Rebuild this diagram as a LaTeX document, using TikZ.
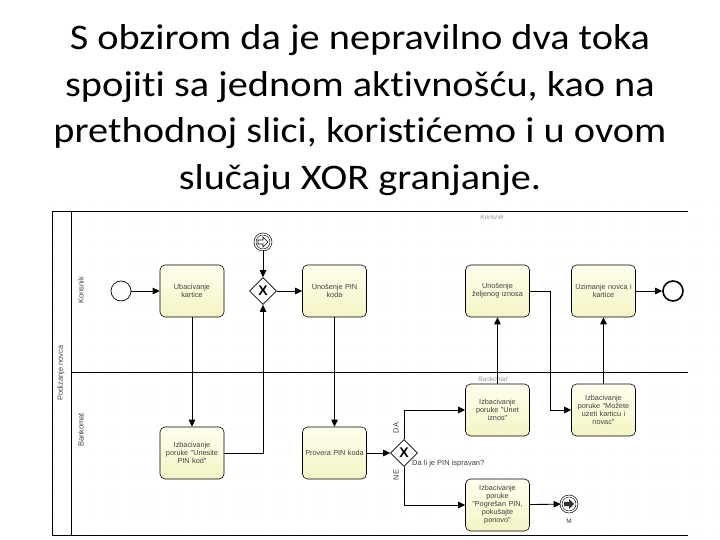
\documentclass[tikz,border=0pt]{standalone}
\usepackage{fontspec}
\setmainfont[Ligatures=NoCommon]{Carlito}
\newfontfamily\diag{Liberation Sans}
\usetikzlibrary{arrows.meta,shapes.geometric,calc}
\definecolor{tasktop}{RGB}{255,255,238}
\definecolor{taskbot}{RGB}{244,244,196}
\newcommand{\wide}[1]{\scalebox{1.12}[1]{#1}}
\begin{document}
\begin{tikzpicture}[x=1pt,y=-1pt,
  task/.style={draw=black, line width=0.6pt, rounded corners=5pt,
    minimum width=64pt, minimum height=52pt, top color=tasktop, bottom color=taskbot,
    font=\diag\fontsize{7.3}{8}\selectfont, text=black!75, align=center,
    text width=62pt, inner sep=1pt},
  gw/.style={diamond, draw, fill=white, minimum width=27pt, minimum height=27pt,
    inner sep=0pt, line width=0.6pt, font=\diag\bfseries\fontsize{14}{14}\selectfont},
  startev/.style={circle, draw, fill=white, minimum size=20pt, inner sep=0pt, line width=0.7pt},
  endev/.style={circle, draw, fill=white, minimum size=20pt, inner sep=0pt, line width=1.6pt},
  linkev/.style={circle, draw, fill=white, double, double distance=1.3pt, minimum size=16pt,
    inner sep=0pt, line width=0.6pt},
  flow/.style={line width=0.9pt, -{Triangle[length=7pt,width=6.5pt]}},
  lane/.style={line width=0.8pt},
  lbl/.style={font=\diag\fontsize{7.5}{8}\selectfont, text=black!75, inner sep=0pt},
  faint/.style={font=\diag\itshape\fontsize{6.5}{7}\selectfont, text=black!40, inner sep=0pt},
  title/.style={font=\fontsize{36}{40}\selectfont, anchor=base, inner sep=0pt}]
\useasboundingbox (0,0) rectangle (720,540);
\fill[white] (0,0) rectangle (720,540);
% title
\node[title] (title1) at (360,50) {\wide{S obzirom da je nepravilno dva toka}};
\node[title] (title2) at (360,97) {\wide{spojiti sa jednom aktivnošću, kao na}};
\node[title] (title3) at (360,143) {\wide{prethodnoj slici, koristićemo i u ovom}};
\node[title] (title4) at (360,190) {\wide{slučaju XOR granjanje.}};
% grid dots
\foreach \i in {0,...,51}{
  \foreach \j in {0,...,26}{
    \fill[black!25] ({53+13*\i},{205+13*\j}) circle (0.45pt);
  }
}
% pool and lanes
\draw[lane] (52,211) -- (688,211);
\draw[lane] (52,535) -- (688,535);
\draw[lane] (52,211) -- (52,535);
\draw[lane] (71,211) -- (71,535);
\draw[lane] (71,372) -- (688,372);
\node[lbl, rotate=90] (pool) at (61,373) {Podizanje novca};
\node[lbl, rotate=90] (laneK) at (81,290) {Korisnik};
\node[lbl, rotate=90] (laneB) at (81,430) {Bankomat};
\node[faint] (fk) at (492,217) {Korisnik};
\node[faint] (fb) at (493,379) {Bankomat};
% nodes
\node[startev] (start) at (121,291) {};
\node[task] (t1) at (192,291) {Ubacivanje\\kartice};
\node[gw] (g1) at (263,291) {X};
\node[linkev] (lc) at (263,242) {};
\draw[line width=0.6pt, fill=white] ($(lc)+(-5,-2)$) -- ++(5,0) -- ++(0,-3) -- ++(5,5) -- ++(-5,5) -- ++(0,-3) -- ++(-5,0) -- cycle;
\node[task] (t3) at (334.5,291) {Unošenje PIN\\koda};
\node[task] (t7) at (497.5,291) {Unošenje\\željenog iznosa};
\node[task] (t9) at (603.5,291) {Uzimanje novca i\\kartice};
\node[endev] (end) at (673,291) {};
\node[task] (t2) at (192,453) {Izbacivanje\\poruke "Unesite\\PIN kod"};
\node[task] (t4) at (334.5,453) {Provera PIN koda};
\node[gw] (g2) at (404,453) {X};
\node[task] (t5) at (497.5,410) {Izbacivanje\\poruke "Unet\\iznos"};
\node[task] (t8) at (603.5,410) {Izbacivanje\\poruke "Možete\\uzeti karticu i\\novac"};
\node[task] (t6) at (497.5,505) {Izbacivanje\\poruke\\"Pogrešan PIN,\\pokušajte\\ponovo"};
\node[linkev] (lt) at (569,504) {};
\fill[black!80] ($(lt)+(-5,-2)$) -- ++(5,0) -- ++(0,-3) -- ++(5,5) -- ++(-5,5) -- ++(0,-3) -- ++(-5,0) -- cycle;
\node[lbl, font=\diag\fontsize{6.5}{7}\selectfont] (ltl) at (569,521) {M};
\node[lbl, anchor=west] (g2l) at (412,464) {Da li je PIN ispravan?};
\node[lbl, rotate=90] (da) at (396,428) {DA};
\node[lbl, rotate=90] (ne) at (396,475) {NE};
\coordinate (b1) at (550,291);
% flows
\draw[flow] (start) -- (t1);
\draw[flow] (t1) -- (t2);
\draw[flow] (t2.east) -| (g1.south);
\draw[flow] (lc) -- (g1);
\draw[flow] (g1) -- (t3);
\draw[flow] (t3) -- (t4);
\draw[flow] (t4) -- (g2);
\draw[flow] (g2.north) |- (t5.west);
\draw[flow] (g2.south) |- (t6.west);
\draw[flow] (t5) -- (t7);
\draw[flow] (t7.east) -- (b1) |- (t8.west);
\draw[flow] (t8) -- (t9);
\draw[flow] (t9) -- (end);
\draw[flow] (t6) -- (lt);
\end{tikzpicture}
\end{document}
